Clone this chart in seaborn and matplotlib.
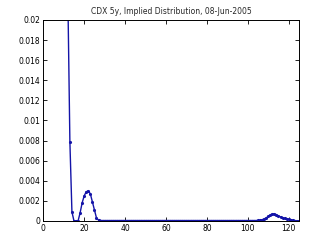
import matplotlib
matplotlib.use("Agg")
import matplotlib.pyplot as plt
import seaborn as sns
import pandas as pd

title = "CDX 5y, Implied Distribution, 08-Jun-2005"

loss = [10, 11, 12, 13, 14, 15, 16, 17, 18, 19, 20, 21, 22, 23, 24, 25, 26, 27,
        28, 29, 30, 31, 32, 33, 34, 35, 36, 37, 38, 39, 40, 41, 42, 43, 44, 45,
        46, 47, 48, 49, 50, 51, 52, 53, 54, 55, 56, 57, 58, 59, 60, 61, 62, 63,
        64, 65, 66, 67, 68, 69, 70, 71, 72, 73, 74, 75, 76, 77, 78, 79, 80, 81,
        82, 83, 84, 85, 86, 87, 88, 89, 90, 91, 92, 93, 94, 95, 96, 97, 98, 99,
        100, 101, 102, 103, 104, 105, 106, 107, 108, 109, 110, 111, 112, 113,
        114, 115, 116, 117, 118, 119, 120, 121, 122, 123, 124, 125]

density = [0.080, 0.045, 0.0225, 0.0079, 0.0009, 0.0, 0.0, 0.0, 0.0008, 0.0018,
           0.0025, 0.0029, 0.0030, 0.0027, 0.0019, 0.0011, 0.0003, 0.00008,
           0.00004, 0.00004, 0.00004, 0.00004, 0.00004, 0.00004, 0.00004, 0.00004,
           0.00004, 0.00004, 0.00004, 0.00004, 0.00004, 0.00004, 0.00004, 0.00004,
           0.00004, 0.00004, 0.00004, 0.00004, 0.00004, 0.00004, 0.00004, 0.00004,
           0.00004, 0.00004, 0.00004, 0.00004, 0.00004, 0.00004, 0.00004, 0.00004,
           0.00004, 0.00004, 0.00004, 0.00004, 0.00004, 0.00004, 0.00004, 0.00004,
           0.00004, 0.00004, 0.00004, 0.00004, 0.00004, 0.00004, 0.00004, 0.00004,
           0.00004, 0.00004, 0.00004, 0.00004, 0.00004, 0.00004, 0.00004, 0.00004,
           0.00004, 0.00004, 0.00004, 0.00004, 0.00004, 0.00004, 0.00004, 0.00004,
           0.00004, 0.00004, 0.00004, 0.00004, 0.00004, 0.00004, 0.00004, 0.00004,
           0.00004, 0.00004, 0.00004, 0.00004, 0.00004, 0.00005, 0.00007, 0.00012,
           0.0002, 0.0003, 0.00045, 0.0006, 0.0007, 0.0007, 0.00062, 0.0005,
           0.0004, 0.00032, 0.00025, 0.0002, 0.00015, 0.0001, 0.00006, 0.00003,
           0.00002, 0.00001]

xticks = [0, 20, 40, 60, 80, 100, 120]
yticks = [0, 0.002, 0.004, 0.006, 0.008, 0.01, 0.012, 0.014, 0.016, 0.018, 0.02]
ytick_labels = ["0", "0.002", "0.004", "0.006", "0.008", "0.01", "0.012",
                "0.014", "0.016", "0.018", "0.02"]

sns.set_style("white")
plt.rcParams['font.family'] = ['DejaVu Sans']

df = pd.DataFrame({"loss": loss, "density": density})

fig = plt.figure(figsize=(3.16, 2.46), dpi=100)
ax = fig.add_axes([0.137, 0.102, 0.809, 0.817])
sns.lineplot(data=df, x="loss", y="density", ax=ax, color="#1414a8",
             linewidth=1.0, marker=".", markersize=4.5, markeredgewidth=0)
ax.set_xlim(0, 125)
ax.set_ylim(0, 0.02)
ax.set_xticks(xticks)
ax.set_xticklabels([str(t) for t in xticks])
ax.set_yticks(yticks)
ax.set_yticklabels(ytick_labels)
ax.set_xlabel("")
ax.set_ylabel("")
ax.tick_params(direction="in", length=3, width=0.6, labelsize=5.5, pad=2,
               top=True, right=True, bottom=True, left=True, colors="black")
for s in ax.spines.values():
    s.set_visible(True)
    s.set_color("black")
    s.set_linewidth(0.7)
ax.set_title(title, fontsize=5.5, pad=4)
fig.savefig("out.png", dpi=100, facecolor="white")
